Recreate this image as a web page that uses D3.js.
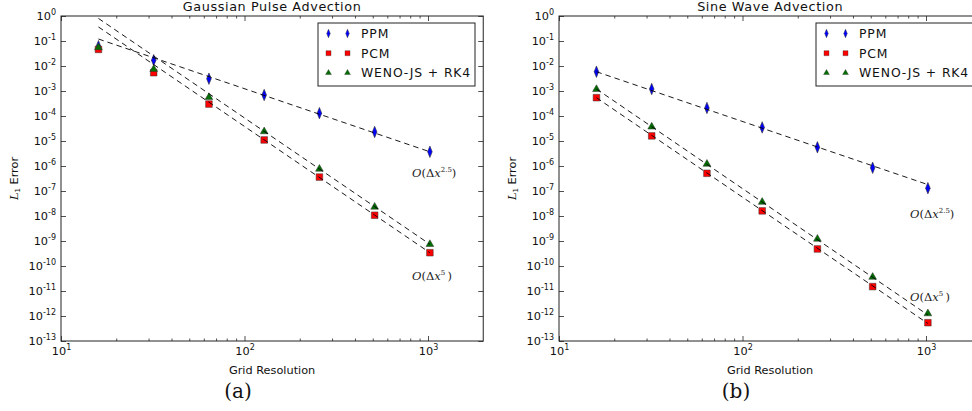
<!DOCTYPE html>
<html><head><meta charset="utf-8">
<script src="https://cdn.jsdelivr.net/npm/d3@7"></script>
<style>body{margin:0;background:#fff} svg{display:block}</style>
</head><body>
<svg id="c" width="972" height="411"></svg>
<script>
// ---------------- data ----------------
const resolutions = [16, 32, 64, 128, 256, 512, 1024];
const seriesNames = ["PPM", "PCM", "WENO-JS + RK4"];

const gaussPPM  = [0.062, 0.017, 3.1e-3, 6.9e-4, 1.3e-4, 2.3e-5, 3.7e-6];
const gaussPCM  = [0.046, 5.4e-3, 3.0e-4, 1.1e-5, 3.6e-7, 1.07e-8, 3.4e-10];
const gaussWENO = [0.055, 7.4e-3, 5.6e-4, 2.4e-5, 7.6e-7, 2.3e-8, 7.4e-10];

const sinePPM  = [5.9e-3, 1.2e-3, 2.1e-4, 3.5e-5, 5.6e-6, 8.5e-7, 1.3e-7];
const sinePCM  = [5.4e-4, 1.6e-5, 5.1e-7, 1.6e-8, 4.8e-10, 1.5e-11, 5.4e-13];
const sineWENO = [1.17e-3, 3.7e-5, 1.2e-6, 3.6e-8, 1.2e-9, 3.6e-11, 1.25e-12];

// reference (dashed) lines: values at N = 16 and N = 1024
const refN = [16, 1024];
const gaussRefPPM  = [0.12, 3.7e-6];
const gaussRefPCM  = [0.365, 3.4e-10];
const gaussRefWENO = [0.80, 7.4e-10];
const sineRefPPM  = [5.9e-3, 1.8e-7];
const sineRefPCM  = [5.4e-4, 5.0e-13];
const sineRefWENO = [1.2e-3, 1.1e-12];

// order annotations: [N, error, order text]
const gaussNotes = [[818, 3.6e-7, "2.5"], [818, 2.75e-11, "5"]];
const sineNotes  = [[818, 8.3e-9, "2.5"], [818, 4.0e-12, "5"]];

const xMajorTicks = [10, 100, 1000];
const yMajorExps = [0,-1,-2,-3,-4,-5,-6,-7,-8,-9,-10,-11,-12,-13];

// ---------------- drawing ----------------
const svg = d3.select("#c");
const colors = {PPM: "#0000ff", PCM: "#ff0000", WENO: "#006e00"};
const sansFont = "'DejaVu Sans', sans-serif";
const serifFont = "'DejaVu Serif', 'Liberation Serif', serif";

const panels = [
  {x0: 61, title: "Gaussian Pulse Advection", cap: "(a)",
   data: [gaussPPM, gaussPCM, gaussWENO], refs: [gaussRefPPM, gaussRefPCM, gaussRefWENO], notes: gaussNotes},
  {x0: 559, title: "Sine Wave Advection", cap: "(b)",
   data: [sinePPM, sinePCM, sineWENO], refs: [sineRefPPM, sineRefPCM, sineRefWENO], notes: sineNotes}
];

const decade = 183.5;
const plotTop = 16, plotBottom = 341;

function markerPath(kind) {
  if (kind === 0) return d3.symbol(d3.symbolDiamond, 38)();
  if (kind === 1) return d3.symbol(d3.symbolSquare, 44)();
  return d3.symbol(d3.symbolTriangle, 26)();
}
const markerColor = [colors.PPM, colors.PCM, colors.WENO];
function drawMarker(g, kind, cx, cy, s) {
  s = s || 1;
  g.append("path")
    .attr("d", markerPath(kind))
    .attr("transform", `translate(${cx},${cy}) scale(${(kind === 0 ? 0.7 : 1) * s},${s})`)
    .attr("fill", markerColor[kind])
    .attr("stroke", "#333")
    .attr("stroke-width", kind === 0 ? 0.7 : 0.5);
}

function supLabel(sel, base, exp, size) {
  sel.text(null);
  sel.append("tspan").text(base);
  sel.append("tspan").attr("dy", -5).attr("font-size", size).text(exp);
}

panels.forEach(p => {
  const x1 = p.x0 + decade * Math.log10(200);
  const x = d3.scaleLog().domain([10, 2000]).range([p.x0, x1]);
  const y = d3.scaleLog().domain([1e-13, 1]).range([plotBottom, plotTop]);
  const g = svg.append("g");

  const xMinor = [];
  [10, 100, 1000].forEach(d => { for (let k = 2; k <= 9; k++) if (d*k < 2000) xMinor.push(d*k); });
  const yMajor = yMajorExps.map(e => Math.pow(10, e));

  const bx = g.append("g").attr("transform", `translate(0,${plotBottom})`)
    .call(d3.axisBottom(x).tickValues(xMajorTicks).tickSizeInner(-5).tickSizeOuter(0).tickPadding(6));
  bx.selectAll("text").each(function(d) {
    supLabel(d3.select(this), "10", String(Math.round(Math.log10(d))), 8);
  });
  g.append("g").attr("transform", `translate(0,${plotBottom})`)
    .call(d3.axisBottom(x).tickValues(xMinor).tickSizeInner(-2.5).tickSizeOuter(0).tickFormat(""));
  g.append("g").attr("transform", `translate(0,${plotTop})`)
    .call(d3.axisTop(x).tickValues(xMajorTicks).tickSizeInner(-5).tickSizeOuter(0).tickFormat(""));
  g.append("g").attr("transform", `translate(0,${plotTop})`)
    .call(d3.axisTop(x).tickValues(xMinor).tickSizeInner(-2.5).tickSizeOuter(0).tickFormat(""));
  const ly = g.append("g").attr("transform", `translate(${p.x0},0)`)
    .call(d3.axisLeft(y).tickValues(yMajor).tickSizeInner(-5).tickSizeOuter(0).tickPadding(5));
  ly.selectAll("text").each(function(d) {
    supLabel(d3.select(this), "10", String(Math.round(Math.log10(d))), 8);
  });
  g.append("g").attr("transform", `translate(${x1},0)`)
    .call(d3.axisRight(y).tickValues(yMajor).tickSizeInner(-5).tickSizeOuter(0).tickFormat(""));

  g.selectAll(".domain").remove();
  g.selectAll(".tick line").attr("stroke", "#222").attr("stroke-width", 0.8);
  g.selectAll(".tick text").attr("font-family", sansFont).attr("font-size", 11.3).attr("fill", "#111");

  g.append("rect").attr("x", p.x0).attr("y", plotTop).attr("width", x1 - p.x0).attr("height", plotBottom - plotTop)
    .attr("fill", "none").attr("stroke", "#222").attr("stroke-width", 1);

  p.data.forEach((vals, k) => {
    vals.forEach((v, i) => drawMarker(g, k, x(resolutions[i]), y(v)));
  });

  const line = d3.line().x(d => x(d[0])).y(d => y(d[1]));
  p.refs.forEach(r => {
    g.append("path").attr("d", line(refN.map((n, i) => [n, r[i]])))
      .attr("fill", "none").attr("stroke", "#000").attr("stroke-width", 0.9)
      .attr("stroke-dasharray", "5.5,4");
  });

  p.notes.forEach(n => {
    const t = g.append("text").attr("x", x(n[0])).attr("y", y(n[1]))
      .attr("font-family", serifFont).attr("font-size", 11.5).attr("fill", "#222");
    t.append("tspan").attr("font-style", "italic").text("O");
    t.append("tspan").text("(Δ");
    t.append("tspan").attr("font-style", "italic").text("x");
    t.append("tspan").attr("dy", -5).attr("font-size", 7).text(n[2]);
    t.append("tspan").attr("dy", 5).text(n[2] === "5" ? "\u2009)" : ")");
  });

  g.append("text").attr("x", (p.x0 + x1) / 2).attr("y", 11).attr("text-anchor", "middle")
    .attr("font-family", sansFont).attr("font-size", 12.8).attr("letter-spacing", 0.6)
    .attr("fill", "#111").text(p.title);

  g.append("text").attr("x", (p.x0 + x1) / 2).attr("y", 374).attr("text-anchor", "middle")
    .attr("font-family", sansFont).attr("font-size", 11.3).attr("fill", "#111").text("Grid Resolution");
  const yl = g.append("text").attr("transform", `translate(${p.x0 - 43},${(plotTop + plotBottom) / 2}) rotate(-90)`)
    .attr("text-anchor", "middle").attr("font-family", sansFont).attr("font-size", 11.3).attr("fill", "#111");
  yl.append("tspan").attr("font-family", serifFont).attr("font-style", "italic").text("L");
  yl.append("tspan").attr("font-size", 7).attr("dy", 2).text("1");
  yl.append("tspan").attr("dy", -2).text(" Error");

  g.append("text").attr("x", p.x0 + 177).attr("y", 398).attr("text-anchor", "middle")
    .attr("font-family", serifFont).attr("font-size", 20).attr("fill", "#111").text(p.cap);

  const lg = g.append("g").attr("transform", `translate(${p.x0 + 257},23)`);
  lg.append("rect").attr("x", 0).attr("y", 0).attr("width", 157).attr("height", 63)
    .attr("fill", "#fff").attr("stroke", "#222").attr("stroke-width", 1);
  seriesNames.forEach((name, k) => {
    const ry = 10.5 + k * 19.7;
    drawMarker(lg, k, 10.5, ry, 0.75);
    drawMarker(lg, k, 29.5, ry, 0.75);
    lg.append("text").attr("x", 43).attr("y", ry + 4.5)
      .attr("font-family", sansFont).attr("font-size", 12.4).attr("letter-spacing", 0.85)
      .attr("fill", "#111").text(name);
  });
});
</script>
</body></html>
